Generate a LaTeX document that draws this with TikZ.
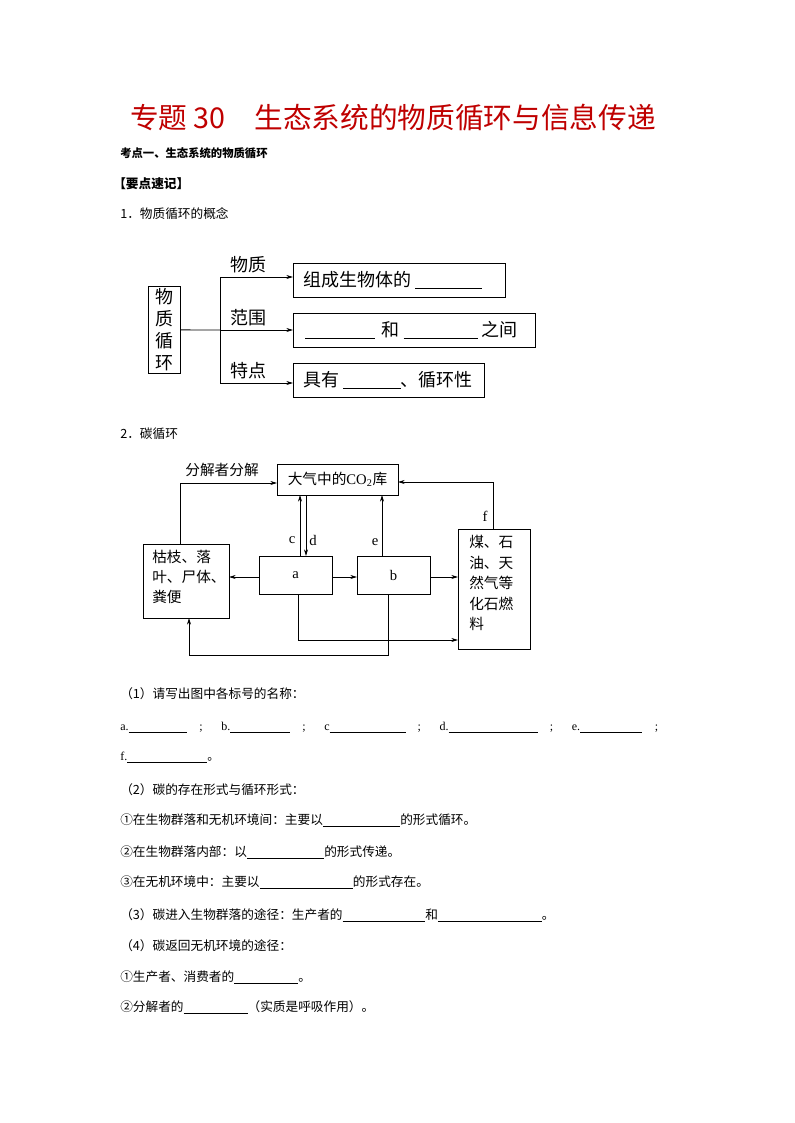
\documentclass[tikz,border=0pt]{standalone}
\usepackage{fontspec}
\setmainfont{Liberation Serif}
\newfontfamily\cjk{Noto Sans CJK SC}
\usetikzlibrary{arrows.meta}
\newcommand{\bl}[1]{\rule[-1.5pt]{#1pt}{0.5pt}}
\begin{document}
\begin{tikzpicture}[x=0.75pt,y=-0.75pt,
  bx/.style={draw,line width=0.8pt,inner sep=0pt,anchor=north west},
  ar/.style={-{Stealth[length=5pt,width=3pt]},line width=0.6pt},
  ln/.style={line width=0.6pt},
  lab/.style={font=\cjk\fontsize{13.5}{15}\selectfont,inner sep=0pt},
  lab2/.style={font=\cjk\fontsize{11}{13}\selectfont,inner sep=0pt},
  tx/.style={anchor=west,inner sep=0pt,font=\cjk\fontsize{9.5}{12}\selectfont}]
\useasboundingbox[fill=white] (0,0) rectangle (794,1123);
\node[anchor=west,inner sep=0pt,text=red!75!black,font=\cjk\fontsize{21.5}{24}\selectfont] (title) at (130,118) {专题 30\quad 生态系统的物质循环与信息传递};
\node[tx,font=\cjk\bfseries\fontsize{8.5}{11}\selectfont] (h1) at (120,153) {考点一、生态系统的物质循环};
\node[tx,font=\cjk\bfseries\fontsize{9.5}{12}\selectfont] (h2) at (113,184) {【要点速记】};
\node[tx] (h3) at (120,214) {1．物质循环的概念};
% diagram 1
\node[bx,minimum width=24pt,minimum height=65pt] (wz) at (148,286) {};
\node[lab,align=center,font=\cjk\fontsize{13.5}{16.5}\selectfont] at (164,330) {物\\质\\循\\环};
\node[bx,minimum width=159pt,minimum height=25.5pt] (b1) at (293,263) {};
\node[bx,minimum width=181.5pt,minimum height=25.5pt] (b2) at (293,313) {};
\node[bx,minimum width=143pt,minimum height=25.5pt] (b3) at (293,363) {};
\node[lab,anchor=west] at (303,280) {组成生物体的 \bl{50}};
\node[lab,anchor=west] at (305,330) {\bl{52} \,和 \bl{56}\,之间};
\node[lab,anchor=west] at (303,380) {具有 \bl{43}、循环性};
\node[lab] at (248,265) {物质};
\node[lab] at (248,318) {范围};
\node[lab] at (248,371) {特点};
\coordinate (j) at (220,330);
\draw[ln] (wz.east) -- (j);
\draw[ln] (220,277) -- (220,383);
\draw[ar] (220,277) -- (b1.west|-220,277);
\draw[ar] (220,330) -- (b2.west|-220,330);
\draw[ar] (220,383) -- (b3.west|-220,383);
\node[tx] (h4) at (120,434) {2．碳循环};
% diagram 2
\node[bx,minimum width=91pt,minimum height=23pt] (co2) at (277,464) {};
\node[lab2] at (337.5,479.5) {大气中的\fontspec{Liberation Serif}CO\textsubscript{2}\cjk 库};
\node[bx,minimum width=55pt,minimum height=28.5pt] (a) at (259,556) {};
\node[font=\fontsize{11}{13}\selectfont] at (295.5,575) {a};
\node[bx,minimum width=55pt,minimum height=28.5pt] (b) at (357,556) {};
\node[font=\fontsize{11}{13}\selectfont] at (393.5,575) {b};
\node[bx,minimum width=64.5pt,minimum height=55.5pt] (L) at (143,544) {};
\node[lab2,align=left,anchor=north west,font=\cjk\fontsize{11}{15}\selectfont] at (152,550) {枯枝、落\\叶、尸体、\\粪便};
\node[bx,minimum width=54pt,minimum height=90pt] (R) at (458,529) {};
\node[lab2,align=left,anchor=north west,font=\cjk\fontsize{11}{15.4}\selectfont] at (469,535) {煤、石\\油、天\\然气等\\化石燃\\料};
\draw[ar] (180,544) -- (180,483) -- (co2.west|-180,483);
\node[lab2] at (222,470) {分解者分解};
\draw[ar] (300,556) -- (300,495);
\draw[ar] (306,495) -- (306,556);
\node[font=\fontsize{11}{13}\selectfont] at (292,540) {c};
\node[font=\fontsize{11}{13}\selectfont] at (313,540) {d};
\draw[ar] (382,556) -- (382,495);
\node[font=\fontsize{11}{13}\selectfont] at (375,542) {e};
\draw[ar] (493,529) -- (493,482) -- (398,482);
\node[font=\fontsize{11}{13}\selectfont] at (485,516) {f};
\draw[ar] (259,577) -- (229,577);
\draw[ar] (332,577) -- (357,577);
\draw[ar] (430,577) -- (458,577);
\draw[ar] (298,594) -- (298,640) -- (458,640);
\draw[ar] (388,594) -- (388,655) -- (189,655) -- (189,618);
% text
\node[tx] (q1) at (120,694) {（1）请写出图中各标号的名称：};
\node[tx,font=\fontspec{Liberation Serif}\fontsize{9}{11}\selectfont] (q1a) at (120,727) {a.\bl{44}\hspace{9pt};\hspace{14pt}b.\bl{45}\hspace{9pt};\hspace{14pt}c\bl{57}\hspace{9pt};\hspace{14pt}d.\bl{67}\hspace{9pt};\hspace{14pt}e.\bl{46}\hspace{10pt};};
\node[tx,font=\fontspec{Liberation Serif}\fontsize{9}{11}\selectfont] (q1f) at (120,757) {f.\bl{60}\cjk 。};
\node[tx] (q2) at (120,790) {（2）碳的存在形式与循环形式：};
\node[tx] at (120,820) {①在生物群落和无机环境间：主要以\bl{58}的形式循环。};
\node[tx] at (120,852) {②在生物群落内部：以\bl{58}的形式传递。};
\node[tx] at (120,882) {③在无机环境中：主要以\bl{70}的形式存在。};
\node[tx] at (120,915) {（3）碳进入生物群落的途径：生产者的\bl{62}和\bl{78}。};
\node[tx] at (120,946) {（4）碳返回无机环境的途径：};
\node[tx] at (120,977) {①生产者、消费者的\bl{48}。};
\node[tx] at (120,1007) {②分解者的\bl{48}（实质是呼吸作用）。};
\end{tikzpicture}
\end{document}
